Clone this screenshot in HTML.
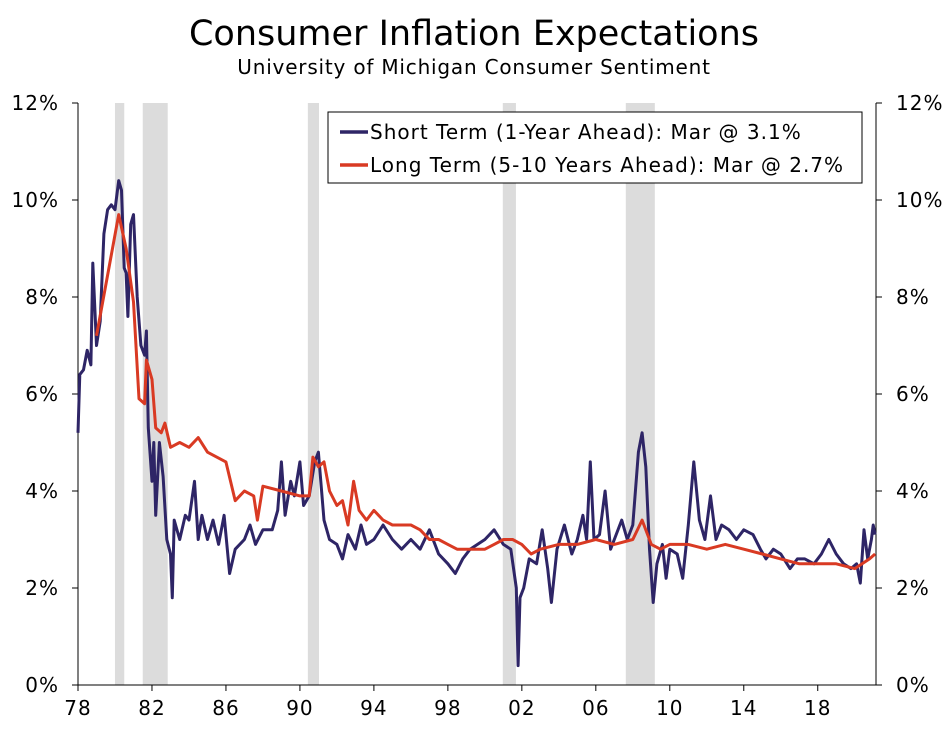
<!DOCTYPE html>
<html><head><meta charset="utf-8"><style>
body{margin:0;background:#fff;}
svg text{font-family:"DejaVu Sans","Liberation Sans",sans-serif;fill:#000;}
</style></head><body>
<svg id="chart" width="947" height="727" viewBox="0 0 947 727">
<text x="474" y="45" font-size="35" text-anchor="middle">Consumer Inflation Expectations</text>
<text x="474" y="74" font-size="20" letter-spacing="0.8" text-anchor="middle">University of Michigan Consumer Sentiment</text>
<g id="rec"></g><g id="axes"></g><g id="lines"></g>
<g>
<rect x="328" y="112" width="534" height="71" fill="#fff" stroke="#000" stroke-width="1"/>
<line x1="340" y1="132" x2="368" y2="132" stroke="#2e2566" stroke-width="3.5"/>
<text x="370" y="139" font-size="20" letter-spacing="1">Short Term (1-Year Ahead): Mar @ 3.1%</text>
<line x1="340" y1="165" x2="368" y2="165" stroke="#d93a23" stroke-width="3.5"/>
<text x="370" y="172" font-size="20" letter-spacing="1">Long Term (5-10 Years Ahead): Mar @ 2.7%</text>
</g>
</svg>
<script>
const recessions=[[1980.0,1980.5],[1981.5,1982.85],[1990.43,1991.03],[2000.97,2001.68],[2007.62,2009.19]];
const yTicks=[0,2,4,6,8,10,12];
const xTickYears=[1978,1982,1986,1990,1994,1998,2002,2006,2010,2014,2018];
const xTickLabels=["78","82","86","90","94","98","02","06","10","14","18"];
const shortYears=[1978.0,1978.1,1978.3,1978.5,1978.7,1978.8,1979.0,1979.2,1979.4,1979.6,1979.8,1980.0,1980.2,1980.35,1980.5,1980.6,1980.7,1980.85,1981.0,1981.2,1981.4,1981.6,1981.7,1981.8,1982.0,1982.1,1982.2,1982.4,1982.6,1982.8,1983.0,1983.1,1983.2,1983.5,1983.8,1984.0,1984.3,1984.5,1984.7,1985.0,1985.3,1985.6,1985.9,1986.2,1986.5,1987.0,1987.3,1987.6,1988.0,1988.5,1988.8,1989.0,1989.2,1989.5,1989.7,1990.0,1990.2,1990.5,1990.8,1991.0,1991.3,1991.6,1992.0,1992.3,1992.6,1993.0,1993.3,1993.6,1994.0,1994.5,1995.0,1995.5,1996.0,1996.5,1997.0,1997.5,1998.0,1998.4,1998.8,1999.2,1999.6,2000.0,2000.5,2001.0,2001.4,2001.7,2001.8,2001.9,2002.1,2002.4,2002.8,2003.1,2003.4,2003.6,2003.9,2004.3,2004.7,2005.0,2005.3,2005.5,2005.7,2005.9,2006.2,2006.5,2006.8,2007.0,2007.4,2007.7,2008.0,2008.3,2008.5,2008.7,2008.9,2009.1,2009.3,2009.6,2009.8,2010.0,2010.4,2010.7,2011.0,2011.3,2011.6,2011.9,2012.2,2012.5,2012.8,2013.2,2013.6,2014.0,2014.5,2014.9,2015.2,2015.6,2016.0,2016.5,2016.9,2017.3,2017.8,2018.2,2018.6,2019.0,2019.4,2019.8,2020.1,2020.3,2020.5,2020.7,2020.9,2021.0,2021.1];
const shortVals=[5.2,6.4,6.5,6.9,6.6,8.7,7.0,7.5,9.3,9.8,9.9,9.8,10.4,10.2,8.6,8.5,7.6,9.5,9.7,8.0,7.0,6.8,7.3,5.3,4.2,5.0,3.5,5.0,4.3,3.0,2.7,1.8,3.4,3.0,3.5,3.4,4.2,3.0,3.5,3.0,3.4,2.9,3.5,2.3,2.8,3.0,3.3,2.9,3.2,3.2,3.6,4.6,3.5,4.2,3.9,4.6,3.7,3.9,4.6,4.8,3.4,3.0,2.9,2.6,3.1,2.8,3.3,2.9,3.0,3.3,3.0,2.8,3.0,2.8,3.2,2.7,2.5,2.3,2.6,2.8,2.9,3.0,3.2,2.9,2.8,2.0,0.4,1.8,2.0,2.6,2.5,3.2,2.4,1.7,2.8,3.3,2.7,3.0,3.5,3.0,4.6,3.0,3.1,4.0,2.8,3.0,3.4,3.0,3.3,4.8,5.2,4.5,2.8,1.7,2.5,2.9,2.2,2.8,2.7,2.2,3.3,4.6,3.4,3.0,3.9,3.0,3.3,3.2,3.0,3.2,3.1,2.8,2.6,2.8,2.7,2.4,2.6,2.6,2.5,2.7,3.0,2.7,2.5,2.4,2.5,2.1,3.2,2.6,3.0,3.3,3.1];
const longYears=[1979.0,1980.2,1980.6,1981.0,1981.3,1981.6,1981.7,1982.0,1982.2,1982.5,1982.7,1983.0,1983.5,1984.0,1984.5,1985.0,1985.5,1986.0,1986.5,1987.0,1987.5,1987.7,1988.0,1989.0,1990.0,1990.5,1990.7,1991.0,1991.3,1991.6,1992.0,1992.3,1992.6,1992.9,1993.2,1993.6,1994.0,1994.5,1995.0,1995.5,1996.0,1996.5,1997.0,1997.5,1998.0,1998.5,1999.0,1999.5,2000.0,2000.5,2001.0,2001.5,2002.0,2002.5,2003.0,2004.0,2005.0,2006.0,2007.0,2008.0,2008.5,2009.0,2009.5,2010.0,2011.0,2012.0,2013.0,2014.0,2015.0,2016.0,2017.0,2018.0,2019.0,2020.0,2020.4,2020.8,2021.1];
const longVals=[7.2,9.7,9.0,7.9,5.9,5.8,6.7,6.3,5.3,5.2,5.4,4.9,5.0,4.9,5.1,4.8,4.7,4.6,3.8,4.0,3.9,3.4,4.1,4.0,3.9,3.9,4.7,4.5,4.6,4.0,3.7,3.8,3.3,4.2,3.6,3.4,3.6,3.4,3.3,3.3,3.3,3.2,3.0,3.0,2.9,2.8,2.8,2.8,2.8,2.9,3.0,3.0,2.9,2.7,2.8,2.9,2.9,3.0,2.9,3.0,3.4,2.9,2.8,2.9,2.9,2.8,2.9,2.8,2.7,2.6,2.5,2.5,2.5,2.4,2.5,2.6,2.7];
const L=78,R=876,T=103,B=685,X0=1978,X1=2021.15;
const xs=y=>L+(y-X0)/(X1-X0)*(R-L);
const ys=v=>B-v/12*(B-T);
const NS="http://www.w3.org/2000/svg";
function mk(tag,parent,attrs){const e=document.createElementNS(NS,tag);for(const k in attrs)e.setAttribute(k,attrs[k]);document.getElementById(parent).appendChild(e);return e;}
recessions.forEach(r=>{
 const e=mk('rect','rec',{x:xs(r[0]),y:T,width:xs(r[1])-xs(r[0]),height:B-T,fill:'#dcdcdc'});
 
 
});
let e=mk('line','axes',{x1:L,y1:T,x2:L,y2:B,stroke:'#000'});


e=mk('line','axes',{x1:R,y1:T,x2:R,y2:B,stroke:'#000'});


e=mk('line','axes',{x1:L,y1:B,x2:R,y2:B,stroke:'#000'});


yTicks.forEach(v=>{
 mk('line','axes',{x1:L-6,y1:ys(v),x2:L,y2:ys(v),stroke:'#000'});
 mk('line','axes',{x1:R,y1:ys(v),x2:R+6,y2:ys(v),stroke:'#000'});
 let t=mk('text','axes',{x:59,y:ys(v)+7,'font-size':20,'letter-spacing':1,'text-anchor':'end'});t.textContent=v+'%';
 
 
 t=mk('text','axes',{x:896,y:ys(v)+7,'font-size':20,'letter-spacing':1});t.textContent=v+'%';
 
 
});
xTickYears.forEach((y,i)=>{
 mk('line','axes',{x1:xs(y),y1:B,x2:xs(y),y2:B+6,stroke:'#000'});
 const t=mk('text','axes',{x:xs(y),y:B+30,'font-size':20,'letter-spacing':1,'text-anchor':'middle'});t.textContent=xTickLabels[i];
 
 
});
function path(yrs,vals){return yrs.map((y,i)=>(i?'L':'M')+xs(y).toFixed(1)+','+ys(vals[i]).toFixed(1)).join('');}
e=mk('path','lines',{d:path(shortYears,shortVals),fill:'none',stroke:'#2e2566','stroke-width':3,'stroke-linejoin':'round'});


e=mk('path','lines',{d:path(longYears,longVals),fill:'none',stroke:'#d93a23','stroke-width':3,'stroke-linejoin':'round'});


</script>
</body></html>
